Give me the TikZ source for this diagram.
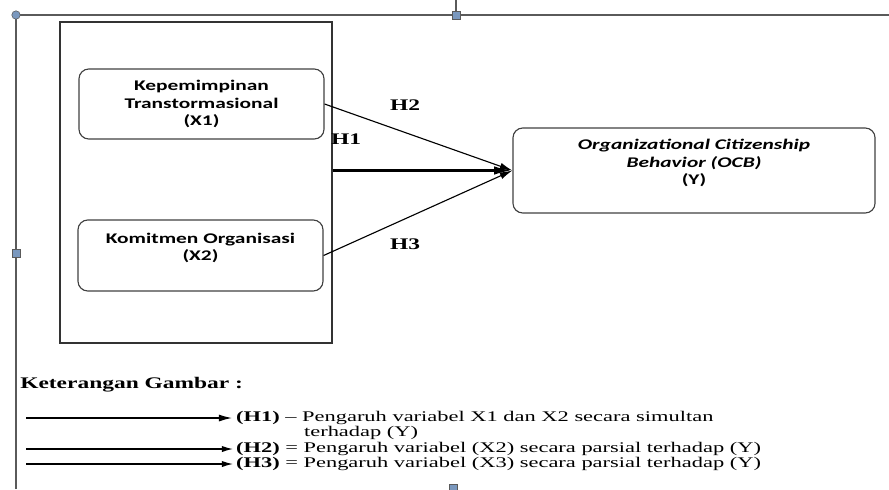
\documentclass[tikz,border=0pt]{standalone}
\usepackage{fontspec}
\setmainfont{Liberation Serif}[FakeStretch=1.45]
\newfontfamily\legfont{Liberation Serif}[FakeStretch=1.52]
\newfontfamily\calib{Carlito}[FakeStretch=1.45]
\usetikzlibrary{arrows.meta}
\definecolor{handleblue}{RGB}{122,152,190}
\definecolor{canvasgray}{RGB}{90,90,90}
\begin{document}
\begin{tikzpicture}[x=0.025cm,y=-0.025cm]
		\tikzset{
			box/.style ={
				rectangle, %矩形节点
				rounded corners=7pt, %圆角
				inner sep=0pt, %文字和边框的距离
				draw=black!75, %边框颜色
				line width=0.8pt,
				align=center,
				font=\calib\bfseries\fontsize{10.5}{12.2}\selectfont
			},
			hlab/.style ={font=\bfseries\fontsize{11.5}{13}\selectfont},
			leg/.style ={anchor=west, inner sep=0pt, inner xsep=2pt, text height=6.5pt, text depth=1.5pt, font=\legfont\fontsize{10.5}{12}\selectfont},
			thinarrow/.style ={line width=0.8pt, -{Latex[length=9pt,width=5pt]}},
			thickarrow/.style ={line width=2pt, -{Latex[length=13pt,width=6pt]}},
			handle/.style ={draw=canvasgray, fill=handleblue, line width=0.4pt}
		}
		\useasboundingbox (0,0) rectangle (889,489);
		% kanvas
		\draw[canvasgray, line width=1pt] (16,489)--(16,15)--(889,15);
		\draw[canvasgray, line width=1pt] (456,0)--(456,11);
		\draw[handle] (16,15) circle (3pt);
		\draw[handle] (12,249) rectangle (20,257);
		\draw[handle] (452,11) rectangle (460,19);
		\draw[handle] (449,484) rectangle (457,492);
		% model
		\node[draw=black!80, line width=1pt, minimum width=6.8cm, minimum height=8.025cm, inner sep=0pt] (frame) at (196,182.5){};
		\node[box, minimum width=6.125cm, minimum height=1.75cm] (x1) at (201.5,104){Kepemimpinan\\Transtormasional\\(X1)};
		\node[box, minimum width=6.125cm, minimum height=1.775cm] (x2) at (200.5,255.5){Komitmen Organisasi\\(X2)\\\mbox{}};
		\node[box, minimum width=9.05cm, minimum height=2.125cm] (y) at (694,170.5){\textit{Organizational Citizenship}\\\textit{Behavior (OCB)}\\(Y)\\\mbox{}};
		\draw[thinarrow] (x1.east)--(y.west);
		\draw[thinarrow] (x2.east)--(y.west);
		\draw[thickarrow] (frame.east |- y.west)--(y.west);
		\node[hlab] (h1) at (346,139){H1};
		\node[hlab] (h2) at (405,105){H2};
		\node[hlab] (h3) at (405,244){H3};
		% keterangan
		\node[anchor=west, inner sep=0pt, font=\bfseries\fontsize{11.5}{13}\selectfont] (ket) at (20,385){Keterangan Gambar :};
		\coordinate (a1) at (26,418);
		\coordinate (a2) at (26,449);
		\coordinate (a3) at (26,464);
		\node[leg] (l1) at (233,418){\textbf{(H1)} – Pengaruh variabel X1 dan X2 secara simultan};
		\node[leg] (l1b) at (301,433){terhadap (Y)};
		\node[leg] (l2) at (233,449){\textbf{(H2)} = Pengaruh variabel (X2) secara parsial terhadap (Y)};
		\node[leg] (l3) at (233,464){\textbf{(H3)} = Pengaruh variabel (X3) secara parsial terhadap (Y)};
		\draw[line width=1.5pt, -{Latex[length=10pt,width=5pt]}] (a1)--(l1.west);
		\draw[line width=0.8pt, -{Latex[length=8pt,width=4.5pt]}] (a2)--(l2.west);
		\draw[line width=0.8pt, -{Latex[length=8pt,width=4.5pt]}] (a3)--(l3.west);
	\end{tikzpicture}
\end{document}
